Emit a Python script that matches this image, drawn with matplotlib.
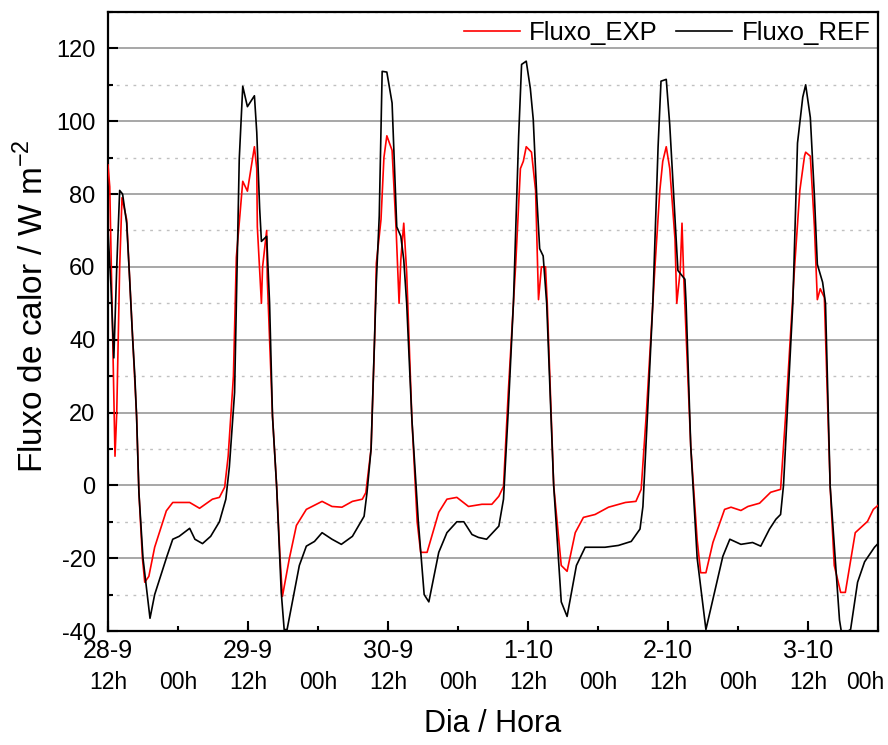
import matplotlib
matplotlib.use("Agg")
import matplotlib.pyplot as plt
from matplotlib.ticker import FixedLocator, MultipleLocator
from matplotlib.transforms import ScaledTranslation

plt.rcParams['font.family'] = ['Liberation Sans', 'DejaVu Sans']
plt.rcParams['axes.unicode_minus'] = False

# time in hours from 28-9 12h
ref_t = [0.0, 0.5, 1.0, 1.5, 2.0, 2.5, 3.2, 3.7, 4.2, 4.6, 4.9, 5.3, 6.0, 7.2, 8.0, 10.1, 11.1, 12.2,
         14.0, 14.9, 16.2, 17.6, 19.1, 20.2, 20.8, 21.7, 22.0, 22.5, 23.1, 23.9, 25.1, 25.5, 26.0, 26.3,
         27.2, 27.7, 28.2, 28.9, 29.7, 30.2, 30.7, 32.8, 34.0, 35.4, 36.7, 38.4, 40.0, 41.9, 43.9, 44.4,
         45.1, 45.6, 46.0, 46.5, 47.0, 47.8, 48.7, 49.0, 49.5, 50.2, 50.7, 51.2, 52.1, 53.2, 54.2, 55.0,
         56.7, 58.1, 59.8, 61.0, 62.4, 63.5, 64.9, 67.0, 67.8, 68.6, 69.5, 70.4, 70.9, 71.7, 72.4, 72.9,
         73.5, 74.0, 74.6, 75.2, 76.4, 77.7, 78.7, 80.3, 81.8, 85.2, 87.5, 89.7, 91.2, 91.7, 92.5, 93.4,
         94.3, 94.8, 95.7, 96.3, 96.9, 97.7, 98.9, 99.1, 99.9, 101.0, 102.5, 105.4, 106.6, 108.5, 110.5,
         111.9, 113.4, 114.5, 115.3, 115.8, 116.6, 117.4, 118.2, 119.1, 119.6, 120.4, 121.1, 121.6, 122.5,
         123.0, 123.8, 125.4, 125.8, 127.3, 128.5, 129.7, 131.4, 132.0]
ref_v = [70, 55, 35, 60, 81, 80, 72, 57, 41, 30, 19, -2, -20, -36.5, -30, -19.5, -14.8, -14,
         -11.8, -14.8, -16, -14, -10, -3.8, 5, 25.5, 50, 89.6, 109.6, 104, 107, 97, 76, 67,
         68.4, 50, 19, 0, -29.4, -39.6, -39.6, -22, -16.7, -15.4, -13, -14.8, -16.2, -14, -8.5, -2,
         10, 35, 55.8, 74, 113.7, 113.5, 105, 92, 71, 68.4, 62, 50, 18, -10, -30, -32,
         -18.4, -13, -10, -10, -13.5, -14.3, -14.8, -11.2, -3.8, 20, 50, 96, 115.6, 116.5, 109, 100.5,
         79.4, 65, 63, 50, 0, -32, -36, -22, -17, -17, -16.5, -15.4, -12, -5.8, 20, 50,
         93, 111, 111.5, 99, 82, 59, 56.6, 50, 10.7, -20, -39.6, -19.5, -14.8, -16.2, -15.7,
         -16.7, -12, -9.3, -8, 0, 25, 50, 94, 106.6, 110, 101, 79.4, 60.7, 55.8,
         50, -0.3, -37, -41, -39.6, -26.6, -21, -17, -16]

exp_t = [0.0, 0.3, 0.8, 1.2, 1.5, 2.0, 2.4, 3.2, 3.7, 4.2, 4.9, 5.3, 5.9, 6.3, 7.0, 8.0, 9.2, 10.0,
         11.1, 14.0, 15.7, 17.9, 19.1, 20.0, 20.6, 21.5, 22.0, 22.5, 23.1, 23.9, 25.1, 25.5, 25.6, 26.3,
         26.5, 27.2, 27.3, 28.2, 28.9, 29.5, 29.9, 31.1, 32.3, 34.0, 36.7, 38.4, 40.1, 41.9, 43.6, 44.2,
         45.1, 45.7, 46.0, 46.8, 47.3, 47.8, 48.7, 49.4, 49.9, 50.2, 50.7, 51.2, 52.1, 53.0, 53.6, 54.7,
         56.7, 58.1, 59.8, 61.8, 64.1, 65.8, 67.0, 67.8, 68.6, 69.9, 70.7, 71.2, 71.7, 72.6, 73.3, 73.8,
         74.3, 75.0, 75.3, 76.4, 77.7, 78.7, 80.1, 81.5, 83.5, 85.8, 88.7, 90.5, 91.4, 92.3, 93.8, 94.6,
         95.1, 95.7, 96.3, 97.2, 97.5, 98.1, 98.4, 98.7, 99.9, 101.0, 101.6, 102.5, 103.7, 105.7, 106.8,
         108.5, 109.7, 111.7, 113.6, 115.3, 116.2, 117.7, 118.6, 119.4, 119.6, 120.4, 121.1, 121.6, 122.1,
         122.8, 123.8, 124.5, 125.6, 126.4, 128.1, 130.2, 131.2, 132.0]
exp_v = [88, 82, 40, 8, 20, 60, 79, 73, 57, 41, 19, -2, -20, -26.6, -25, -17, -11, -7,
         -4.7, -4.7, -6.3, -3.8, -3.3, -0.5, 8, 30, 62.6, 72, 83.5, 80.8, 93, 87, 71, 50,
         60, 70, 57, 19, 0, -20, -30.5, -20, -11, -6.6, -4.4, -5.8, -6, -4.4, -3.8, -2,
         10, 40, 61, 73, 90, 96, 92, 70, 50, 62, 72, 58.5, 18, -10, -18.4, -18.4,
         -7.4, -3.8, -3.3, -5.8, -5.2, -5.2, -3, -0.3, 25, 61, 87, 89, 93, 91.5, 81, 51,
         60, 60, 50, 0, -22, -23.6, -13, -8.8, -8, -6, -4.7, -4.4, -1.1, 20, 61, 81,
         89, 93, 87, 67.6, 50, 59, 72, 57, 10.7, -15, -24, -24, -15.7, -6.6, -6,
         -6.9, -5.8, -4.9, -1.9, -1.1, 20, 60, 81, 90.4, 91.5, 90.4, 71, 51, 54,
         51.6, -0.3, -22, -29.4, -29.4, -13, -9.9, -6.6, -5.5]

day_labels = ['28-9', '29-9', '30-9', '1-10', '2-10', '3-10']
hour_labels = ['12h', '00h', '12h', '00h', '12h', '00h', '12h', '00h', '12h', '00h', '12h', '00h']
y_ticks = [-40, -20, 0, 20, 40, 60, 80, 100, 120]

fig = plt.figure(figsize=(8.88, 7.45), dpi=100)
ax = fig.add_axes([108/888, 1 - 631/745, 770/888, 619/745])

ax.plot(exp_t, exp_v, color='#ff0000', lw=1.2, label='Fluxo_EXP', zorder=3)
ax.plot(ref_t, ref_v, color='#000000', lw=1.2, label='Fluxo_REF', zorder=4)

ax.set_xlim(0, 132)
ax.set_ylim(-40, 130)

ax.set_yticks(y_ticks)
ax.yaxis.set_minor_locator(MultipleLocator(10))
ax.grid(True, axis='y', which='major', color='#a0a0a0', lw=1.3, ls='-', zorder=1)
ax.grid(True, axis='y', which='minor', color='#c0c0c0', lw=1.0, ls=(0, (2, 4)), zorder=1)

day_pos = [24 * i for i in range(len(day_labels))]
hour_pos = [12 * i for i in range(len(hour_labels))]
ax.xaxis.remove_overlapping_locs = False
ax.xaxis.set_major_locator(FixedLocator(day_pos))
ax.set_xticklabels(day_labels)
ax.xaxis.set_minor_locator(FixedLocator(hour_pos))
ax.set_xticklabels(hour_labels, minor=True)

ax.tick_params(axis='both', which='major', direction='in', length=7.2, width=1.5, colors='black')
ax.tick_params(axis='both', which='minor', direction='in', length=3.3, width=1.5)
ax.tick_params(axis='x', which='major', labelsize=18, pad=6)
ax.tick_params(axis='x', which='minor', labelsize=16.5, pad=29)
ax.tick_params(axis='y', which='major', labelsize=17, pad=9)
ax.tick_params(top=False, right=False, which='both')

# shift the last "00h" label left so it stays inside the figure
last_lbl = ax.xaxis.get_minorticklabels()[-1]
last_lbl.set_transform(last_lbl.get_transform() + ScaledTranslation(-13/100, 0, fig.dpi_scale_trans))

for s in ax.spines.values():
    s.set_linewidth(1.6)

ax.set_ylabel('Fluxo de calor / W m$^{\\mathregular{-2}}$', fontsize=24)
ax.yaxis.set_label_coords(-0.075, 0.525)
ax.set_xlabel('Dia / Hora', fontsize=22)
ax.xaxis.set_label_coords(0.5, -0.126)

leg = ax.legend(loc='center right', bbox_to_anchor=(0.99, 0.966), ncol=2, frameon=False,
                fontsize=18.5, handlelength=2.2, handletextpad=0.35, columnspacing=0.7,
                borderpad=0, borderaxespad=0)

fig.savefig('out.png', dpi=100)
